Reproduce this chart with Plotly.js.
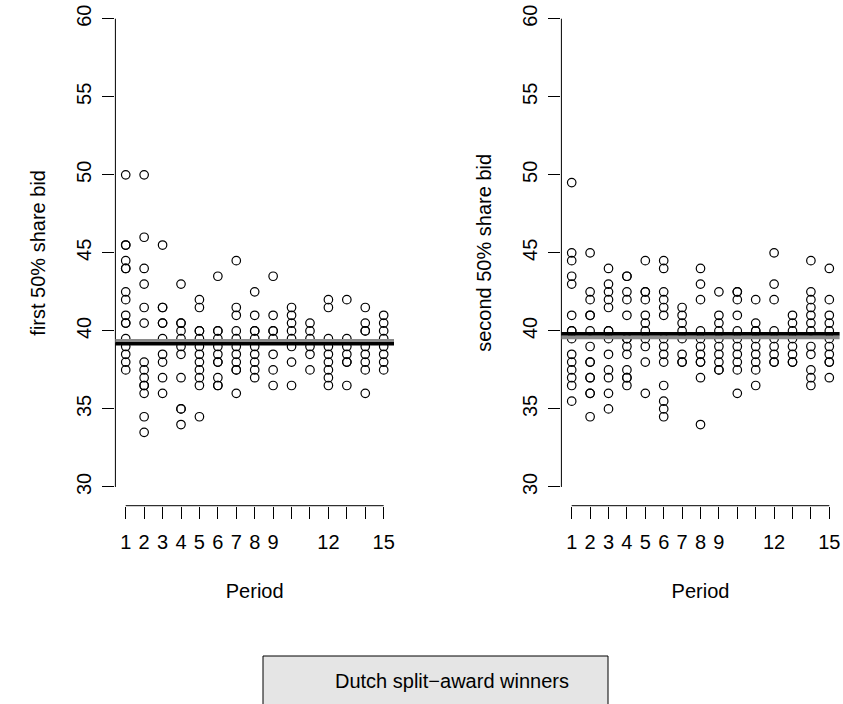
<!DOCTYPE html>
<html>
<head>
<meta charset="utf-8">
<script src="https://cdn.plot.ly/plotly-3.0.1.min.js"></script>
<style>html,body{margin:0;padding:0;background:#fff;}#chart{width:843px;height:704px;}</style>
</head>
<body>
<div id="chart"></div>
<script>
// ---- data ----
const periods = [1,2,3,4,5,6,7,8,9,10,11,12,13,14,15];
const periodLabels = ['1','2','3','4','5','6','7','8','9','','','12','','','15'];
const yTicks = [30,35,40,45,50,55,60];

const firstBids = [
  [50,45.5,45.5,44.5,44,44,42.5,42,41,40.5,40.5,39.5,39,38.5,38,37.5],
  [50,46,44,43,41.5,40.5,38,37.5,37,36.5,36.5,36,34.5,33.5],
  [45.5,41.5,41.5,40.5,40.5,39.5,38.5,38,37,36],
  [43,40.5,40.5,40,39.5,39,38.5,37,35,35,34],
  [42,41.5,40,40,39.5,39,38.5,38,37.5,37,36.5,34.5],
  [43.5,40,40,39.5,39,38.5,38,38,37,36.5,36.5],
  [44.5,41.5,41,40,39.5,39,38.5,38,37.5,37.5,36],
  [42.5,41,40,40,39.5,39,38.5,38,37.5,37],
  [43.5,41,40,40,39.5,38.5,37.5,36.5],
  [41.5,41,40.5,40,39.5,39,38,36.5],
  [40.5,40,39.5,39,38.5,37.5],
  [42,41.5,39.5,39,38.5,38,37.5,37,36.5],
  [42,39.5,39,38.5,38,38,36.5],
  [41.5,40.5,40,40,39,38.5,38,37.5,36],
  [41,40.5,40,39.5,39,38.5,38,37.5]
];
const secondBids = [
  [49.5,45,44.5,43.5,43,41,40,40,39.5,38.5,38,37.5,37,36.5,35.5],
  [45,42.5,42,41,41,40,39,38,38,37,37,36,36,34.5],
  [44,43,42.5,42,41.5,40,40,39.5,38.5,37.5,37,36,35],
  [43.5,43.5,42.5,42,41,39.5,39.5,39,38.5,37.5,37,37,36.5],
  [44.5,42.5,42.5,42,41,40.5,40,39.5,39,38,36],
  [44.5,44,42.5,42,41.5,41,39.5,39,38.5,38,36.5,35.5,35,34.5],
  [41.5,41,40.5,40,39.5,38.5,38,38],
  [44,43,42,40,39.5,39,38.5,38,38,37,34],
  [42.5,41,40.5,40,39.5,39,38.5,38,37.5,37.5],
  [42.5,42.5,42,41,40,39.5,39,38.5,38,37.5,36],
  [42,40.5,40,40,39.5,39,38.5,38,37.5,36.5],
  [45,43,42,40,39.5,39,38.5,38,38],
  [41,40.5,40,39.5,39,38.5,38,38],
  [44.5,42.5,42,41.5,41,40.5,40,39,38.5,37.5,37,36.5],
  [44,42,41,40.5,40,39.5,39,38.5,38,38,37]
];
// reference lines (black = winners' average, grey = second line)
const firstMean = 39.18, firstGrey = 39.36;
const secondMean = 39.82, secondGrey = 39.6;
const legendLabel = 'Dutch split\u2212award winners';

// ---- build ----
function flatten(bids){
  const xs=[], ys=[];
  bids.forEach((arr,i)=>arr.forEach(v=>{xs.push(periods[i]); ys.push(v);}));
  return {xs, ys};
}
const f1 = flatten(firstBids), f2 = flatten(secondBids);
const mk = {symbol:'circle-open', size:8.5, color:'#000', line:{width:1.2, color:'#000'}};
const traces = [
  {type:'scatter', mode:'markers', x:f1.xs, y:f1.ys, xaxis:'x', yaxis:'y', marker:mk, hoverinfo:'x+y'},
  {type:'scatter', mode:'markers', x:f2.xs, y:f2.ys, xaxis:'x2', yaxis:'y2', marker:mk, hoverinfo:'x+y'}
];

const W = 843, H = 704;
const fontFam = 'Liberation Sans, Arial, Helvetica, sans-serif';
const FS = 20;
const yDom = [(H-505.7)/H, 1];
function xAx(d0,d1,anchor){
  return {domain:[d0/W,d1/W], range:[0.44,15.56], anchor:anchor,
    showgrid:false, zeroline:false, showline:false,
    ticks:'outside', ticklen:12, tickwidth:1, tickcolor:'#000',
    tickmode:'array', tickvals:periods, ticktext:periodLabels,
    ticklabelstandoff:6,
    tickfont:{size:FS, family:fontFam, color:'#000'},
    title:{text:'Period', font:{size:FS, family:fontFam, color:'#000'}, standoff:32}};
}
function yAx(anchor, title){
  return {domain:yDom, range:[28.8,61.2], anchor:anchor,
    showgrid:false, zeroline:false, showline:false,
    ticks:'outside', ticklen:12, tickwidth:1, tickcolor:'#000',
    tickmode:'array', tickvals:yTicks, ticktext:yTicks.map(String), tickangle:-90,
    ticklabelstandoff:3,
    tickfont:{size:FS, family:fontFam, color:'#000'},
    title:{text:title, font:{size:FS, family:fontFam, color:'#000'}, standoff:22}};
}
const shapes = [];
function axisLines(xr, yr){
  shapes.push({type:'line', xref:xr+' domain', yref:yr, x0:0, x1:0, y0:yTicks[0], y1:yTicks[yTicks.length-1], line:{color:'#000', width:1}});
  shapes.push({type:'line', xref:xr, yref:yr+' domain', x0:periods[0], x1:periods[periods.length-1], y0:0, y1:0, line:{color:'#000', width:1}});
}
axisLines('x','y'); axisLines('x2','y2');
function hline(xr, yr, val, col, w){
  shapes.push({type:'line', xref:xr+' domain', yref:yr, x0:0, x1:1, y0:val, y1:val, line:{color:col, width:w}, layer:'above'});
}
hline('x','y',firstGrey,'#8a8a8a',4);
hline('x','y',firstMean,'#000',3.5);
hline('x2','y2',secondGrey,'#8a8a8a',4);
hline('x2','y2',secondMean,'#000',3.5);
// legend box
shapes.push({type:'rect', xref:'paper', yref:'paper', x0:263/W, x1:608/W, y0:-0.05, y1:(H-656)/H, fillcolor:'#e5e5e5', line:{color:'#000', width:1}, layer:'below'});

const layout = {
  width:W, height:H, margin:{l:0,r:0,t:0,b:0}, showlegend:false,
  paper_bgcolor:'#fff', plot_bgcolor:'rgba(0,0,0,0)',
  font:{family:fontFam, size:FS, color:'#000'},
  xaxis:xAx(115.4,394,'y'), yaxis:yAx('x','first 50% share bid'),
  xaxis2:xAx(561.4,839.6,'y2'), yaxis2:yAx('x2','second 50% share bid'),
  shapes:shapes,
  annotations:[{xref:'paper', yref:'paper', x:333/W, y:(H-681)/H, xanchor:'left', yanchor:'middle', showarrow:false, text:legendLabel, font:{size:FS, family:fontFam, color:'#000'}}]
};
Plotly.newPlot('chart', traces, layout, {displayModeBar:false, staticPlot:true});
</script>
</body>
</html>
